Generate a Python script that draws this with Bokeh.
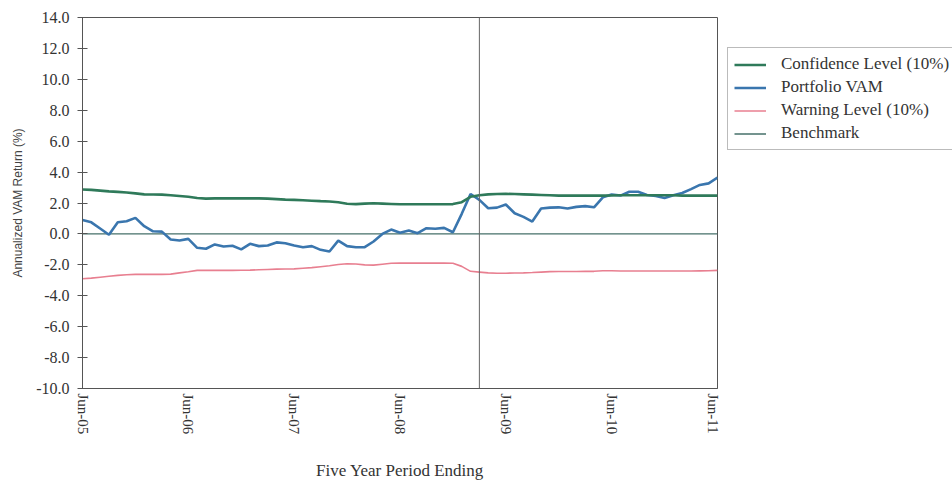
from bokeh.plotting import figure
from bokeh.layouts import row
from bokeh.models import Legend, LegendItem, Span, FixedTicker, Range1d, PrintfTickFormatter
from bokeh.embed import file_html
from bokeh.resources import INLINE

# ---- data -------------------------------------------------------------
tick_months = [0, 12, 24, 36, 48, 60, 72]
tick_labels = ["Jun-05", "Jun-06", "Jun-07", "Jun-08", "Jun-09", "Jun-10", "Jun-11"]
y_ticks = [-10, -8, -6, -4, -2, 0, 2, 4, 6, 8, 10, 12, 14]

# monthly periods, Jun-05 (0) .. Jun-11 (72)
months = list(range(73))

portfolio = [
    0.90, 0.75, 0.35, -0.05, 0.75, 0.82, 1.04, 0.50, 0.17, 0.15,
    -0.36, -0.43, -0.32, -0.90, -0.96, -0.68, -0.81, -0.77, -1.00, -0.64,
    -0.79, -0.75, -0.55, -0.60, -0.75, -0.86, -0.79, -1.03, -1.14, -0.43,
    -0.79, -0.86, -0.86, -0.49, 0.00, 0.28, 0.07, 0.22, 0.05, 0.37,
    0.33, 0.39, 0.11, 1.30, 2.58, 2.20, 1.66, 1.70, 1.90, 1.34,
    1.10, 0.80, 1.64, 1.70, 1.72, 1.64, 1.75, 1.80, 1.72, 2.37,
    2.55, 2.48, 2.73, 2.73, 2.52, 2.45, 2.33, 2.50, 2.65, 2.90,
    3.17, 3.27, 3.65,
]

confidence = [
    2.87, 2.85, 2.80, 2.75, 2.72, 2.68, 2.62, 2.56, 2.55, 2.54,
    2.50, 2.45, 2.40, 2.32, 2.28, 2.30, 2.30, 2.30, 2.30, 2.30,
    2.30, 2.28, 2.25, 2.22, 2.20, 2.18, 2.15, 2.12, 2.10, 2.05,
    1.95, 1.93, 1.96, 1.98, 1.96, 1.94, 1.92, 1.92, 1.92, 1.92,
    1.92, 1.92, 1.93, 2.05, 2.40, 2.50, 2.56, 2.58, 2.59, 2.58,
    2.56, 2.54, 2.52, 2.50, 2.48, 2.48, 2.48, 2.48, 2.48, 2.48,
    2.49, 2.50, 2.50, 2.50, 2.50, 2.50, 2.50, 2.50, 2.48, 2.48,
    2.48, 2.48, 2.48,
]

warning = [
    -2.90, -2.86, -2.80, -2.74, -2.68, -2.64, -2.62, -2.62, -2.62, -2.62,
    -2.60, -2.52, -2.45, -2.36, -2.36, -2.36, -2.36, -2.36, -2.35, -2.34,
    -2.32, -2.30, -2.28, -2.27, -2.26, -2.22, -2.18, -2.12, -2.06, -1.98,
    -1.93, -1.95, -2.00, -2.02, -1.96, -1.90, -1.89, -1.89, -1.89, -1.89,
    -1.89, -1.89, -1.90, -2.10, -2.42, -2.47, -2.52, -2.54, -2.54, -2.53,
    -2.52, -2.50, -2.47, -2.44, -2.43, -2.43, -2.43, -2.42, -2.42, -2.38,
    -2.38, -2.40, -2.40, -2.40, -2.40, -2.40, -2.40, -2.40, -2.40, -2.40,
    -2.39, -2.38, -2.36,
]

benchmark = [
    0.0, 0.0, 0.0, 0.0, 0.0, 0.0, 0.0, 0.0, 0.0, 0.0,
    0.0, 0.0, 0.0, 0.0, 0.0, 0.0, 0.0, 0.0, 0.0, 0.0,
    0.0, 0.0, 0.0, 0.0, 0.0, 0.0, 0.0, 0.0, 0.0, 0.0,
    0.0, 0.0, 0.0, 0.0, 0.0, 0.0, 0.0, 0.0, 0.0, 0.0,
    0.0, 0.0, 0.0, 0.0, 0.0, 0.0, 0.0, 0.0, 0.0, 0.0,
    0.0, 0.0, 0.0, 0.0, 0.0, 0.0, 0.0, 0.0, 0.0, 0.0,
    0.0, 0.0, 0.0, 0.0, 0.0, 0.0, 0.0, 0.0, 0.0, 0.0,
    0.0, 0.0, 0.0,
]

marker_month = 45  # vertical reference line (Mar-09)

# ---- styling ------------------------------------------------------------
SERIF = "Liberation Serif"
SANS = "Liberation Sans"
C_CONF = "#2f7a5a"
C_PORT = "#3a76ae"
C_WARN = "#e87f90"
C_BENCH = "#46706a"
AXIS = "#555555"

series = [
    ("Confidence Level (10%)", confidence, C_CONF, 2.6),
    ("Portfolio VAM", portfolio, C_PORT, 2.6),
    ("Warning Level (10%)", warning, C_WARN, 1.6),
    ("Benchmark", benchmark, C_BENCH, 1.3),
]

p = figure(width=720, height=484, output_backend="svg", toolbar_location=None,
           x_range=Range1d(0, 72), y_range=Range1d(-10, 14),
           min_border_left=82, min_border_right=3, min_border_top=17,
           min_border_bottom=96)
p.background_fill_color = "white"
p.border_fill_color = "white"
p.grid.visible = False
p.outline_line_color = AXIS
p.outline_line_width = 1

# y axis
ya = p.yaxis[0]
ya.ticker = FixedTicker(ticks=y_ticks)
ya.formatter = PrintfTickFormatter(format="%.1f")
ya.major_tick_in = 5
ya.major_tick_out = 5
ya.minor_tick_in = 0
ya.minor_tick_out = 0
ya.axis_line_color = AXIS
ya.major_tick_line_color = AXIS
ya.major_label_text_font = SERIF
ya.major_label_text_font_size = "16px"
ya.major_label_text_color = "#333333"
ya.major_label_standoff = 8
ya.axis_label = "Annualized VAM Return (%)"
ya.axis_label_text_font = SANS
ya.axis_label_text_font_size = "12px"
ya.axis_label_text_font_style = "normal"
ya.axis_label_text_color = "#444444"
ya.axis_label_standoff = 8

# x axis
xa = p.xaxis[0]
xa.ticker = FixedTicker(ticks=tick_months)
xa.major_label_overrides = {m: l for m, l in zip(tick_months, tick_labels)}
xa.major_label_orientation = "vertical"
xa.major_tick_in = 0
xa.major_tick_out = 0
xa.minor_tick_in = 0
xa.minor_tick_out = 0
xa.axis_line_color = AXIS
xa.major_label_text_font = SERIF
xa.major_label_text_font_size = "15px"
xa.major_label_text_color = "#333333"
xa.major_label_standoff = 5
xa.axis_label = "Five Year Period Ending"
xa.axis_label_text_font = SERIF
xa.axis_label_text_font_size = "17px"
xa.axis_label_text_font_style = "normal"
xa.axis_label_text_color = "#333333"
xa.axis_label_standoff = 24

# vertical reference mark
p.add_layout(Span(location=marker_month, dimension="height",
                  line_color="#666666", line_width=1))

# draw order: benchmark, warning, portfolio, confidence
for idx in [3, 2, 1, 0]:
    name, vals, col, lw = series[idx]
    p.line(months, vals, line_color=col, line_width=lw)

# ---- legend panel (separate figure to the right of the chart) ----------
p2 = figure(width=232, height=484, output_backend="svg", toolbar_location=None,
            x_range=Range1d(1000, 1001), y_range=Range1d(0, 1),
            x_axis_type=None, y_axis_type=None,
            min_border_left=0, min_border_right=0, min_border_top=17,
            min_border_bottom=96)
p2.grid.visible = False
p2.outline_line_color = None
p2.background_fill_color = "white"
p2.border_fill_color = "white"

items = []
for name, vals, col, lw in series:
    r = p2.line(months, vals, line_color=col, line_width=lw)
    items.append(LegendItem(label=name, renderers=[r]))

legend = Legend(items=items, location=(7, 238))
legend.label_text_font = SERIF
legend.label_text_font_size = "17px"
legend.label_text_color = "#333333"
legend.glyph_width = 32
legend.glyph_height = 17
legend.label_height = 17
legend.spacing = 3
legend.padding = 6
legend.margin = 0
legend.label_standoff = 15
legend.border_line_color = "#777777"
legend.border_line_width = 1
legend.background_fill_color = "white"
legend.background_fill_alpha = 1
p2.add_layout(legend, "center")

layout = row(p, p2)
open("out.html", "w").write(file_html(layout, INLINE))
